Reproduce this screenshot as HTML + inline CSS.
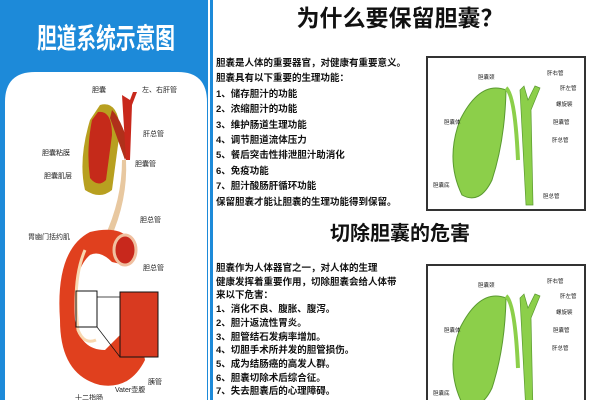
<!DOCTYPE html>
<html><head><meta charset="utf-8"><style>
body{margin:0;width:600px;height:400px;overflow:hidden;background:#fff;position:relative;font-family:"Liberation Sans","Noto Sans CJK SC",sans-serif}
.t{position:absolute;left:216px;font-size:9.5px;color:#111;font-weight:bold;white-space:nowrap;line-height:15.4px}
.lab{font-size:7px;fill:#222;font-family:"Liberation Sans","Noto Sans CJK SC",sans-serif}
</style></head><body>
<svg width="600" height="400" style="position:absolute;left:0;top:0">
<rect x="0" y="0" width="208" height="400" fill="#1d8ad9"/>
<path d="M5 400 V102 Q5 72 35 72 H178 Q207 72 207 102 V400 Z" fill="#fff"/>
<rect x="210" y="0" width="3" height="400" fill="#1d8ad9"/>
<path d="M100 105 Q118 100 120 130 L112 190 Q100 200 85 190 Q78 160 90 120 Z" fill="#b8a020"/>
<path d="M98 112 Q112 110 112 135 L106 180 Q98 188 90 178 Q86 150 92 120 Z" fill="#c52a1a"/>
<path d="M112 110 Q122 120 130 150 L125 160 Q118 140 110 118Z" fill="#b0301a"/>
<path d="M122 95 L130 100 L133 92 L137 92 L132 105 L130 160 L126 160 Z" fill="#c8281c"/>
<path d="M126 160 Q128 200 110 240 L104 238 Q122 200 122 160 Z" fill="#e8c8a0"/>
<path d="M90 232 Q120 225 130 240 Q138 255 125 265 L112 262 Q100 250 90 255 Q72 270 75 320 Q80 350 105 350 L120 335 Q140 330 145 360 Q130 390 100 385 Q60 375 60 320 Q55 250 90 232Z" fill="#e0401e"/>
<path d="M85 250 Q72 280 78 330 Q84 345 96 340" fill="none" stroke="#f8d8b0" stroke-width="3"/>
<ellipse cx="125" cy="250" rx="11" ry="15" fill="#c8281c" stroke="#f0c0a0" stroke-width="3"/>
<rect x="120" y="292" width="38" height="65" fill="#d83a20" stroke="#111"/>
<rect x="76" y="291" width="21" height="36" fill="none" stroke="#111"/>
<line x1="97" y1="297" x2="120" y2="297" stroke="#111" stroke-width=".7"/>
<line x1="97" y1="327" x2="120" y2="357" stroke="#111" stroke-width=".7"/>
<g class="lab">
<text x="92" y="92">胆囊</text><text x="142" y="92">左、右肝管</text>
<text x="143" y="136">肝总管</text><text x="42" y="155">胆囊粘膜</text>
<text x="135" y="166">胆囊管</text><text x="44" y="178">胆囊肌层</text>
<text x="140" y="222">胆总管</text><text x="28" y="239">胃幽门括约肌</text>
<text x="143" y="270">胆总管</text><text x="148" y="384">胰管</text>
<text x="115" y="392">Vater壶腹</text><text x="75" y="400">十二指肠</text>
</g>
<g id="d">
<rect x="427" y="57" width="158" height="153" fill="#fff" stroke="#333" stroke-width="2"/>
<path d="M506 90 Q480 80 460 120 Q445 160 462 195 Q480 205 492 180 Q505 140 506 90Z" fill="#8ccf4a" stroke="#5a9a30"/>
<path d="M520 90 L526 205 L533 205 L531 110 L540 88 L535 86 L528 100 L524 86Z" fill="#8ccf4a" stroke="#5a9a30" stroke-width=".7"/>
<path d="M506 88 Q515 95 518 160" fill="none" stroke="#8ccf4a" stroke-width="4"/>
</g>
<use href="#d" y="208"/>
<g class="lab" style="font-size:5.5px">
<text x="478" y="79">胆囊颈</text><text x="547" y="75">肝右管</text><text x="560" y="90">肝左管</text>
<text x="556" y="106">螺旋襞</text><text x="553" y="124">胆囊管</text><text x="444" y="124">胆囊体</text>
<text x="552" y="142">肝总管</text><text x="433" y="187">胆囊底</text><text x="543" y="198">胆总管</text>
<text x="478" y="287">胆囊颈</text><text x="547" y="283">肝右管</text><text x="560" y="298">肝左管</text>
<text x="556" y="314">螺旋襞</text><text x="553" y="332">胆囊管</text><text x="444" y="332">胆囊体</text>
<text x="552" y="350">肝总管</text><text x="433" y="395">胆囊底</text>
</g>
<text x="37" y="48" textLength="138" lengthAdjust="spacingAndGlyphs" fill="#fff" font-size="28" font-weight="bold" font-family="Liberation Sans,Noto Sans CJK SC,sans-serif">胆道系统示意图</text>
<text x="400" y="26" text-anchor="middle" fill="#111" font-size="23" font-weight="bold" font-family="Liberation Sans,Noto Sans CJK SC,sans-serif">为什么要保留胆囊？</text>
<text x="400" y="240" text-anchor="middle" fill="#111" font-size="20" font-weight="bold" font-family="Liberation Sans,Noto Sans CJK SC,sans-serif">切除胆囊的危害</text>
</svg>
<div class="t" style="top:56px">胆囊是人体的重要器官，对健康有重要意义。<br>胆囊具有以下重要的生理功能：<br>1、储存胆汁的功能<br>2、浓缩胆汁的功能<br>3、维护肠道生理功能<br>4、调节胆道流体压力<br>5、餐后突击性排泄胆汁助消化<br>6、免疫功能<br>7、胆汁酸肠肝循环功能<br>保留胆囊才能让胆囊的生理功能得到保留。</div>
<div class="t" style="top:262px;line-height:13.7px">胆囊作为人体器官之一，对人体的生理<br>健康发挥着重要作用，切除胆囊会给人体带<br>来以下危害：<br>1、消化不良、腹胀、腹泻。<br>2、胆汁返流性胃炎。<br>3、胆管结石发病率增加。<br>4、切胆手术所并发的胆管损伤。<br>5、成为结肠癌的高发人群。<br>6、胆囊切除术后综合征。<br>7、失去胆囊后的心理障碍。</div>
</body></html>
